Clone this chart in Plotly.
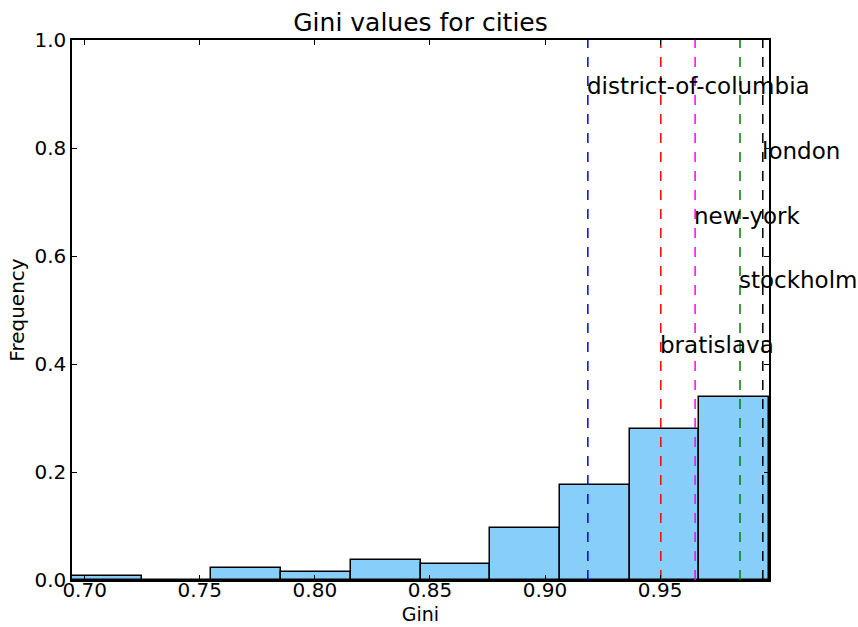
import plotly.graph_objects as go

# Histogram data (10 bins, normalised frequencies)
bin_edges = [0.6945, 0.7248, 0.7550, 0.7853, 0.8156, 0.8459, 0.8762, 0.9064, 0.9367, 0.9670, 0.9973]
frequencies = [0.007, 0.0, 0.0216, 0.0142, 0.0364, 0.029, 0.096, 0.176, 0.279, 0.338]

# City gini markers
cities = ["district-of-columbia", "london", "new-york", "stockholm", "bratislava"]
city_gini = [0.9186, 0.9946, 0.9652, 0.9847, 0.9503]
city_label_y = [0.90, 0.78, 0.66, 0.54, 0.42]
city_colors = ["#0000ff", "#000000", "#ff00ff", "#008000", "#ff0000"]

x_ticks = [0.70, 0.75, 0.80, 0.85, 0.90, 0.95]
y_ticks = [0.0, 0.2, 0.4, 0.6, 0.8, 1.0]

centers = [(a + b) / 2 for a, b in zip(bin_edges[:-1], bin_edges[1:])]
widths = [b - a for a, b in zip(bin_edges[:-1], bin_edges[1:])]

FONT = "DejaVu Sans"

fig = go.Figure()
fig.add_trace(go.Bar(
    x=centers, y=frequencies, width=widths,
    marker=dict(color="#87cefa", line=dict(color="black", width=1.5)),
    showlegend=False, hoverinfo="skip",
))

for name, g, col in zip(cities, city_gini, city_colors):
    fig.add_trace(go.Scatter(
        x=[g, g], y=[0, 1], mode="lines",
        line=dict(color=col, width=1.5, dash="10px,9px"),
        showlegend=False, hoverinfo="skip",
    ))

for name, g, ly in zip(cities, city_gini, city_label_y):
    fig.add_annotation(
        x=g, y=ly, text=name, showarrow=False,
        xanchor="left", yanchor="bottom", xshift=-3, yshift=-7,
        font=dict(size=23, color="black", family=FONT),
    )

axis_common = dict(
    showline=True, linecolor="black", linewidth=1.5, mirror="allticks",
    ticks="inside", ticklen=5, tickcolor="black", tickwidth=1,
    showgrid=False, zeroline=False, automargin=False,
    tickfont=dict(size=20, color="black", family=FONT),
)

fig.update_xaxes(
    range=[bin_edges[0], bin_edges[-1]], tickvals=x_ticks,
    ticktext=[f"{v:.2f}" for v in x_ticks],
    ticklabelstandoff=-9,
    title=dict(text="Gini", font=dict(size=19, color="black", family=FONT), standoff=7),
    **axis_common,
)
fig.update_yaxes(
    range=[0, 1], tickvals=y_ticks,
    ticktext=[f"{v:.1f}" for v in y_ticks],
    title=dict(text="Frequency", font=dict(size=20, color="black", family=FONT), standoff=4),
    **axis_common,
)

fig.update_layout(
    width=858, height=627,
    margin=dict(l=72, r=89, t=40, b=47),
    plot_bgcolor="white", paper_bgcolor="white",
    bargap=0,
    title=dict(text="Gini values for cities", x=0.5, xanchor="center", xref="paper",
               y=1 - 22 / 627, yanchor="middle",
               font=dict(size=25, color="black", family=FONT)),
    font=dict(family=FONT, color="black"),
)

fig.write_html("out.html")
